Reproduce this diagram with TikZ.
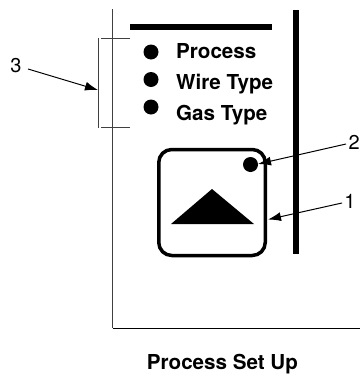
\documentclass[tikz,border=0pt]{standalone}
\usepackage{fontspec}
\setmainfont{TeX Gyre Heros}
\usetikzlibrary{arrows.meta}
\tikzset{
  thinline/.style={line width=0.8pt,black!75},
  heavy/.style={line width=6pt,black},
  bullet/.style={circle,fill=black,inner sep=0pt,minimum size=15pt},
  opt/.style={font=\bfseries\fontsize{20.6}{22}\selectfont,anchor=base west,inner sep=0pt},
  num/.style={font=\fontsize{20}{22}\selectfont,inner sep=0pt},
  callout/.style={line width=1pt,-{Latex[length=13pt,width=9pt]}}
}
\begin{document}
\begin{tikzpicture}[x=1pt,y=-1pt]
\useasboundingbox (0,0) rectangle (360,378);
% panel
\coordinate (vt) at (112.5,9); \coordinate (vb) at (112.5,328); \coordinate (hr) at (360,328);
\draw[thinline] (vt) -- (vb);
\draw[line width=1pt,black] (vb) -- (hr);
\coordinate (bl) at (130,27); \coordinate (br) at (272,27);
\draw[heavy] (bl) -- (br);
\coordinate (rt) at (296,10); \coordinate (rb) at (296,254);
\draw[heavy] (rt) -- (rb);
% bracket
\coordinate (bt) at (98.5,38); \coordinate (bb) at (98.5,128);
\draw[thinline] (bt) -- (bb);
\coordinate (t1) at (101,38.5); \coordinate (t2) at (130,38.5);
\coordinate (t3) at (101,127.5); \coordinate (t4) at (130,127.5);
\draw[thinline] (t1) -- (t2);
\draw[thinline] (t3) -- (t4);
% options
\node[bullet] (d1) at (151,52) {};
\node[bullet] (d2) at (151,79.5) {};
\node[bullet] (d3) at (151,107) {};
\node[opt] (p) at (176,58.5) {Process};
\node[opt] (w) at (176,89) {Wire Type};
\node[opt] (g) at (176,120) {Gas Type};
% key
\node[draw,line width=3.5pt,rounded corners=13pt,minimum width=106.5pt,minimum height=106pt,inner sep=0pt] (key) at (212,202.5) {};
\node[bullet] (led) at (250.5,164.5) {};
\fill (171,224) coordinate (ta) -- (212,189) -- (254,224) -- cycle;
% callouts
\node[num] (n3) at (16,66) {3};
\node[num] (n2) at (354.2,142) {2};
\node[num] (n1) at (350,201) {1};
\coordinate (a3) at (98,90); \coordinate (a2) at (258,164); \coordinate (a1) at (268,219.5);
\coordinate (s3) at (28,69); \coordinate (s2) at (346,144); \coordinate (s1) at (342,203);
\draw[callout] (s3) -- (a3);
\draw[callout] (s2) -- (a2);
\draw[callout] (s1) -- (a1);
\node[font=\bfseries\fontsize{20.6}{22}\selectfont,inner sep=0pt] (cap) at (222.5,364) {Process Set Up};
\end{tikzpicture}
\end{document}
